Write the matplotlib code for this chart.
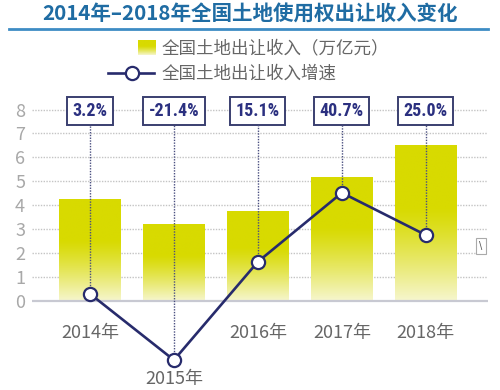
import numpy as np
import matplotlib
matplotlib.use("Agg")
import matplotlib.pyplot as plt
from matplotlib.lines import Line2D

plt.rcParams['font.family'] = ['Noto Sans CJK SC', 'DejaVu Sans']

# ---- data ----
years = ['2014年', '2015年', '2016年', '2017年', '2018年']
income = [4.26, 3.22, 3.75, 5.18, 6.50]          # 万亿元
growth = [3.2, -21.4, 15.1, 40.7, 25.0]          # %
growth_labels = ['3.2%', '-21.4%', '15.1%', '40.7%', '25.0%']
yticks = [0, 1, 2, 3, 4, 5, 6, 7, 8]

title = '2014年–2018年全国土地使用权出让收入变化'
legend_bar = '全国土地出让收入（万亿元）'
legend_line = '全国土地出让收入增速'

NAVY = '#272b6c'
YEL_TOP = np.array([216, 218, 0]) / 255
YEL_BOT = np.array([246, 246, 205]) / 255

def gradient_img(n=100):
    t = np.linspace(0, 1, n)  # 0 top, 1 bottom
    f = np.clip((t - 0.4) / 0.6, 0, 1) ** 1.2
    cols = YEL_TOP[None, :] * (1 - f[:, None]) + YEL_BOT[None, :] * f[:, None]
    return np.repeat(cols[:, None, :], 2, axis=1)

fig = plt.figure(figsize=(5, 3.9), dpi=100)
ax = fig.add_axes([0.064, 0.045, 0.912, 0.711])
ylo, yhi = -3.0, 8.6
ax.set_ylim(ylo, yhi)
ax.set_xlim(-0.69, 4.74)
x = np.arange(len(years))

bars = ax.bar(x, income, width=0.73, color='none', edgecolor='none', zorder=2)
img = gradient_img()
for b in bars:
    x0 = b.get_x(); w = b.get_width(); h = b.get_height()
    im = ax.imshow(img, extent=(x0, x0 + w, 0, h), aspect='auto', zorder=2,
                   interpolation='bilinear')
    im.set_clip_path(b)

# grid
for v in yticks[1:]:
    ax.axhline(v, color='#c4c4c4', lw=1.0, ls=(0, (1, 1)), zorder=1)
ax.axhline(0, color='#c8c9d2', lw=1.6, zorder=3)

ax.set_yticks(yticks)
ax.set_yticklabels([str(v) for v in yticks], fontsize=13, color='#a8a8a8')
ax.tick_params(axis='y', length=0, pad=5)
ax.set_xticks([])
for s in ax.spines.values():
    s.set_visible(False)

# x labels
for i, lab in enumerate(years):
    yy = -3.27 if growth[i] < 0 else -1.35
    ax.text(i, yy, lab, ha='center', va='center', fontsize=13, color='#666666')

# growth labels in boxes
for i, lab in enumerate(growth_labels):
    ax.text(i, 7.94, lab, ha='center', va='center', fontsize=13,
            fontweight='bold', color='#2b3080',
            family=['DejaVu Sans Condensed', 'Liberation Sans Narrow', 'Roboto Condensed', 'Noto Sans CJK SC'],
            fontstretch='condensed',
            bbox=dict(boxstyle='square,pad=0.3', fc='white', ec='#3a3f70', lw=1.4),
            zorder=6)

# growth line on twin axis
k, off = 0.1127, -0.07
ax2 = ax.twinx()
ax2.set_ylim((ylo - off) / k, (yhi - off) / k)
ax2.set_axis_off()
top_g = (7.38 - off) / k
ax2.vlines(x, growth, top_g, colors='#4a4f80', lw=1.0, linestyles=(0, (1, 1)), zorder=3)
ax2.plot(x, growth, color=NAVY, lw=1.9, marker='o', ms=9.5, mfc='white',
         mec=NAVY, mew=1.6, zorder=5, clip_on=False)

# title
fig.text(0.5, 1 - 14 / 390, title, ha='center', va='center', fontsize=14.8,
         fontweight='bold', color='#1f6ca3')
fig.add_artist(Line2D([9 / 500, 488 / 500], [1 - 29 / 390, 1 - 29 / 390],
                      color='#3d8cc4', lw=2))

# legend
lax = fig.add_axes([138 / 500, 1 - 55 / 390, 17 / 500, 15 / 390])
lax.imshow(gradient_img(), aspect='auto', extent=(0, 1, 0, 1))
lax.set_axis_off()
fig.text(162 / 500, 1 - 48 / 390, legend_bar, ha='left', va='center',
         fontsize=12.6, color='#666666')
fig.add_artist(Line2D([108 / 500, 154 / 500], [1 - 73 / 390, 1 - 73 / 390],
                      color=NAVY, lw=1.9))
fig.add_artist(Line2D([132 / 500], [1 - 73 / 390], marker='o', ms=9.5,
                      mfc='white', mec=NAVY, mew=1.6, ls='none'))
fig.text(162 / 500, 1 - 74 / 390, legend_line, ha='left', va='center',
         fontsize=12.6, color='#666666')

# small icon on right
fig.text(481 / 500, 1 - 246 / 390, '\\', ha='center', va='center', fontsize=7,
         color='#555555', family='DejaVu Sans',
         bbox=dict(boxstyle='square,pad=0.3', fc='white', ec='#aaaaaa', lw=0.8))

fig.savefig('out.png', dpi=100)
